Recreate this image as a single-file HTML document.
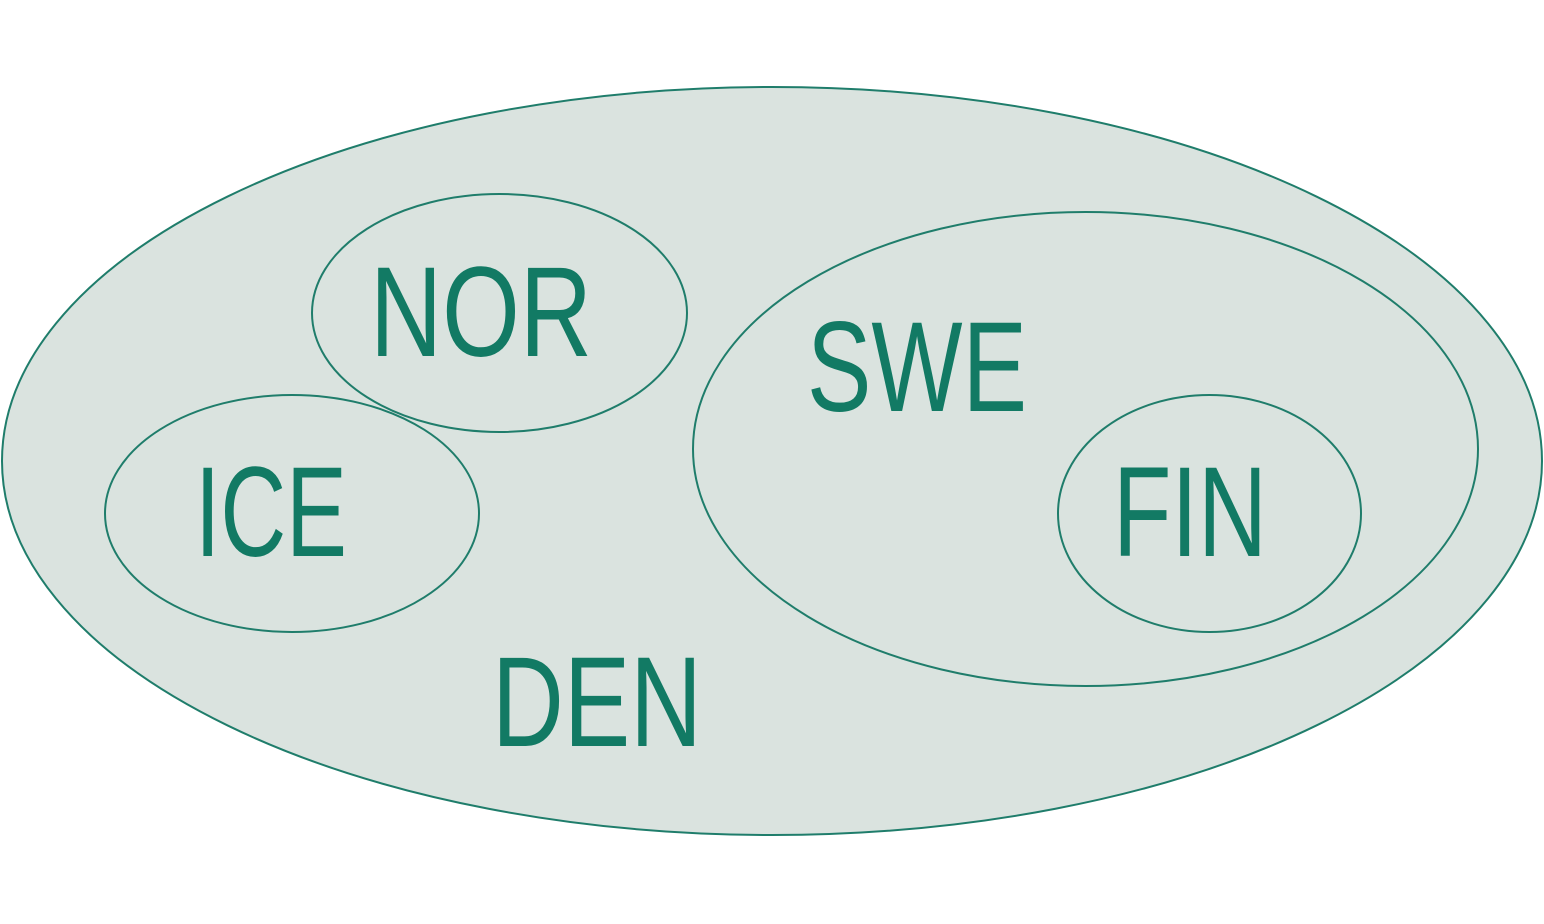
<!DOCTYPE html>
<html><head><meta charset="utf-8"><style>
html,body{margin:0;padding:0;background:#fff;}
svg{display:block;}
text{font-family:"Liberation Sans",sans-serif;fill:#127a64;font-size:128px;}
</style></head><body>
<svg width="1544" height="924" viewBox="0 0 1544 924" xmlns="http://www.w3.org/2000/svg">
<ellipse cx="772" cy="461" rx="770" ry="374" fill="#dae3df" stroke="#1f7d6b" stroke-width="2"/>
<ellipse cx="499.5" cy="313" rx="187.5" ry="119" fill="none" stroke="#1f7d6b" stroke-width="2"/>
<ellipse cx="292" cy="513.5" rx="187" ry="118.5" fill="none" stroke="#1f7d6b" stroke-width="2"/>
<ellipse cx="1085.5" cy="449" rx="392.5" ry="237" fill="none" stroke="#1f7d6b" stroke-width="2"/>
<ellipse cx="1209.5" cy="513.5" rx="151.5" ry="118.5" fill="none" stroke="#1f7d6b" stroke-width="2"/>
<text x="370" y="356" textLength="222" lengthAdjust="spacingAndGlyphs">NOR</text>
<text x="195" y="556" textLength="152" lengthAdjust="spacingAndGlyphs">ICE</text>
<text x="807" y="411" textLength="220" lengthAdjust="spacingAndGlyphs">SWE</text>
<text x="1113" y="556" textLength="154" lengthAdjust="spacingAndGlyphs">FIN</text>
<text x="492" y="746" textLength="210" lengthAdjust="spacingAndGlyphs">DEN</text>
</svg>
</body></html>
